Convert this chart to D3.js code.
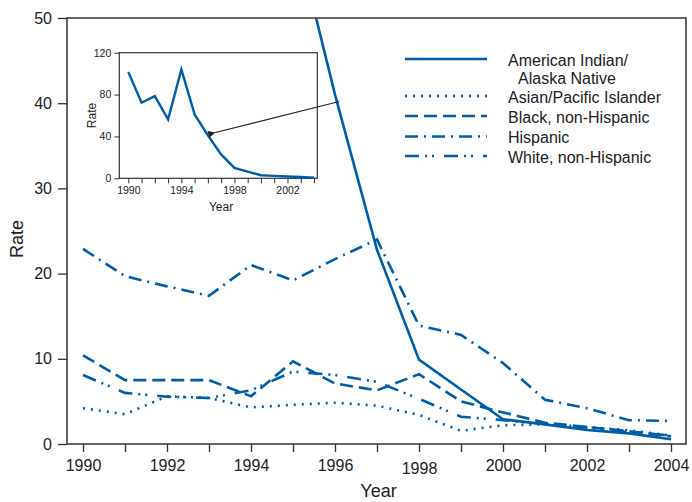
<!DOCTYPE html>
<html lang="en">
<head>
<meta charset="UTF-8">
<title>Rate by race/ethnicity, 1990-2004</title>
<script src="https://d3js.org/d3.v7.min.js"></script>
<style>
  body { margin: 0; background: #fff; }
  svg text { font-family: "Liberation Sans", Arial, sans-serif; fill: #222; }
</style>
</head>
<body>
<div id="chart"></div>
<script>
// data
const years = [1990, 1991, 1992, 1993, 1994, 1995, 1996, 1997, 1998, 1999, 2000, 2001, 2002, 2003, 2004];
const amIndian = [101.5, 72.2, 78.5, 56.4, 104, 61, 41, 22.8, 9.9, 6.4, 2.9, 2.3, 1.65, 1.25, 0.55];
const asian    = [4.2, 3.5, 5.6, 5.4, 4.3, 4.6, 4.85, 4.5, 3.4, 1.55, 2.2, 2.3, 2.0, 1.6, 1.0];
const black    = [10.4, 7.5, 7.5, 7.5, 5.6, 9.7, 7.1, 6.3, 8.2, 5.0, 3.7, 2.5, 2.0, 1.5, 0.9];
const hispanic = [22.9, 19.7, 18.5, 17.4, 21.0, 19.2, 21.7, 24.0, 13.9, 12.8, 9.5, 5.2, 4.2, 2.8, 2.7];
const white    = [8.1, 6.0, 5.55, 5.4, 6.3, 8.5, 8.1, 7.3, 5.3, 3.2, 2.8, 2.35, 1.9, 1.4, 1.0];
const mainYTicks = [0, 10, 20, 30, 40, 50];
const mainXLabels = [1990, 1992, 1994, 1996, 1998, 2000, 2002, 2004];
const insetYTicks = [0, 40, 80, 120];
const insetXLabels = [1990, 1994, 1998, 2002];

const series = [
  {name: "American Indian/", name2: "Alaska Native", values: amIndian, dash: null},
  {name: "Asian/Pacific Islander", values: asian, dash: "2,6"},
  {name: "Black, non-Hispanic", values: black, dash: "13,6"},
  {name: "Hispanic", values: hispanic, dash: "13,6,2,6"},
  {name: "White, non-Hispanic", values: white, dash: "14,6,2,5,2,10"}
];

const blue = "#005ea8";
const axisCol = "#333";
const W = 692, H = 502;

const svg = d3.select("#chart").append("svg")
  .attr("width", W).attr("height", H);

// main scales
const frame = {left: 67, right: 686, top: 18, bottom: 444};
const x = d3.scaleLinear().domain([1990, 2004]).range([83, 671]);
const y = d3.scaleLinear().domain([0, 50]).range([frame.bottom, frame.top]);

svg.append("defs").append("clipPath").attr("id", "mainClip")
  .append("rect")
  .attr("x", frame.left).attr("y", frame.top)
  .attr("width", frame.right - frame.left).attr("height", frame.bottom - frame.top);

// lines
const line = d3.line().x((d, i) => x(years[i])).y(d => y(d));
const plot = svg.append("g").attr("clip-path", "url(#mainClip)");
plot.selectAll("path.series")
  .data(series)
  .enter().append("path")
  .attr("class", "series")
  .attr("d", d => line(d.values))
  .attr("fill", "none")
  .attr("stroke", blue)
  .attr("stroke-width", 2.6)
  .attr("stroke-dasharray", d => d.dash);

// frame (top + right border)
svg.append("rect")
  .attr("x", frame.left).attr("y", frame.top)
  .attr("width", frame.right - frame.left).attr("height", frame.bottom - frame.top)
  .attr("fill", "none").attr("stroke", axisCol).attr("stroke-width", 1.5);

// y axis
const yAxis = svg.append("g")
  .attr("transform", `translate(${frame.left},0)`)
  .call(d3.axisLeft(y).tickValues(mainYTicks).tickSize(9).tickPadding(6).tickSizeOuter(0));
yAxis.select(".domain").remove();
yAxis.selectAll("line").attr("stroke", axisCol).attr("stroke-width", 1.3);
yAxis.selectAll("text").style("font-size", "16px");

// x axis
const xAxis = svg.append("g")
  .attr("transform", `translate(0,${frame.bottom})`)
  .call(d3.axisBottom(x).tickValues(years).tickSize(8).tickPadding(6).tickSizeOuter(0)
    .tickFormat(d => mainXLabels.includes(d) ? d : ""));
xAxis.select(".domain").remove();
xAxis.selectAll("line").attr("stroke", axisCol).attr("stroke-width", 1.3);
xAxis.selectAll("text").style("font-size", "16px")
  .attr("dy", d => d === 1998 ? "1.0em" : "0.8em");

svg.append("text")
  .attr("x", (frame.left + frame.right) / 2 + 2).attr("y", 497)
  .attr("text-anchor", "middle").style("font-size", "18px").text("Year");
svg.append("text")
  .attr("transform", `translate(23,${(frame.top + frame.bottom) / 2 + 8}) rotate(-90)`)
  .attr("text-anchor", "middle").style("font-size", "18px").text("Rate");

// legend
const lg = svg.append("g");
const rowY = [59, 96, 116, 136.5, 156];
series.forEach((s, i) => {
  lg.append("line")
    .attr("x1", 405).attr("x2", 487)
    .attr("y1", rowY[i]).attr("y2", rowY[i])
    .attr("stroke", blue).attr("stroke-width", 2.6)
    .attr("stroke-dasharray", s.dash);
  lg.append("text").attr("x", 508).attr("y", rowY[i] + 6.5)
    .style("font-size", "16px").text(s.name);
  if (s.name2) {
    lg.append("text").attr("x", 518).attr("y", rowY[i] + 24.5)
      .style("font-size", "16px").text(s.name2);
  }
});

// inset
const ib = {left: 119.3, right: 317.3, top: 52.7, bottom: 178.3};
const ix = d3.scaleLinear().domain([1990, 2004]).range([128.3, 314]);
const iy = d3.scaleLinear().domain([0, 120]).range([ib.bottom, ib.top]);
const inset = svg.append("g");
inset.append("rect")
  .attr("x", ib.left).attr("y", ib.top)
  .attr("width", ib.right - ib.left).attr("height", ib.bottom - ib.top)
  .attr("fill", "#fff").attr("stroke", axisCol).attr("stroke-width", 1.2);

const iline = d3.line().x((d, i) => ix(years[i])).y(d => iy(d));
inset.append("path")
  .attr("d", iline(amIndian))
  .attr("fill", "none").attr("stroke", blue).attr("stroke-width", 2.4);

const iyAxis = inset.append("g")
  .attr("transform", `translate(${ib.left},0)`)
  .call(d3.axisLeft(iy).tickValues(insetYTicks).tickSize(5).tickPadding(3).tickSizeOuter(0));
iyAxis.select(".domain").remove();
iyAxis.selectAll("line").attr("stroke", axisCol);
iyAxis.selectAll("text").style("font-size", "10.5px");

const ixAxis = inset.append("g")
  .attr("transform", `translate(0,${ib.bottom})`)
  .call(d3.axisBottom(ix).tickValues(years).tickSize(5).tickPadding(3).tickSizeOuter(0)
    .tickFormat(d => insetXLabels.includes(d) ? d : ""));
ixAxis.select(".domain").remove();
ixAxis.selectAll("line").attr("stroke", axisCol);
ixAxis.selectAll("text").style("font-size", "10.5px");

inset.append("text")
  .attr("x", 221).attr("y", 211)
  .attr("text-anchor", "middle").style("font-size", "12px").text("Year");
inset.append("text")
  .attr("transform", `translate(96,${(ib.top + ib.bottom) / 2}) rotate(-90)`)
  .attr("text-anchor", "middle").style("font-size", "12px").text("Rate");

// arrow from main AI/AN line to the inset
svg.select("defs").append("marker")
  .attr("id", "arrowHead")
  .attr("viewBox", "0 0 10 10").attr("refX", 1).attr("refY", 5)
  .attr("markerWidth", 10).attr("markerHeight", 7)
  .attr("markerUnits", "userSpaceOnUse")
  .attr("orient", "auto-start-reverse")
  .append("path").attr("d", "M0,5 L10,0 L10,10 Z").attr("fill", "#222");

svg.append("line")
  .attr("x1", x(1996.1)).attr("y1", y(40.2))
  .attr("x2", ix(1996.5)).attr("y2", iy(43.5))
  .attr("stroke", "#222").attr("stroke-width", 1.1)
  .attr("marker-end", "url(#arrowHead)");
</script>
</body>
</html>
